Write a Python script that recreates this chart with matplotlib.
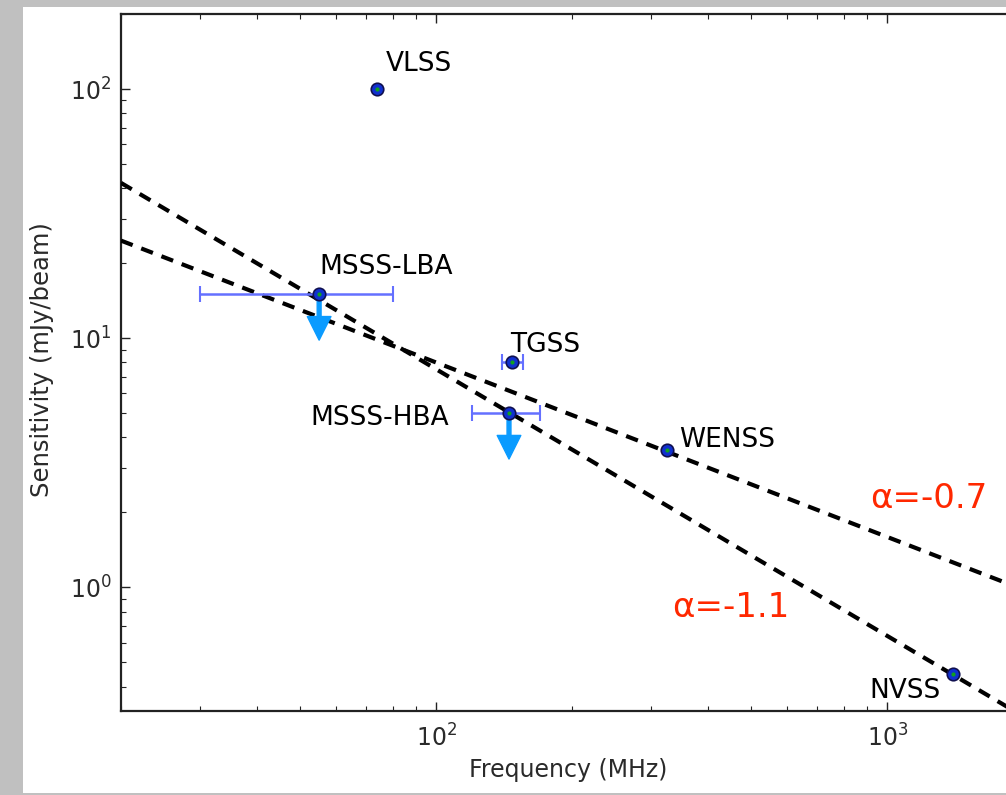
import numpy as np
import matplotlib
matplotlib.use("Agg")
import matplotlib.pyplot as plt
from matplotlib.patches import Rectangle
from matplotlib.transforms import offset_copy

# ---- data ----
surveys = ["VLSS", "MSSS-LBA", "TGSS", "MSSS-HBA", "WENSS", "NVSS"]
freq_mhz = [74, 55, 147, 145, 325, 1400]
sens_mjy = [100, 15, 8, 5, 3.55, 0.45]
freq_lo = [74, 30, 140, 120, 325, 1400]
freq_hi = [74, 80, 156, 170, 325, 1400]
upper_limit = [False, True, False, True, False, False]

# reference power-law lines S = S0 * (nu / nu0) ** slope
line_slope = [-0.7, -1.07]
line_ref_freq = [325, 20]
line_ref_sens = [3.5, 42]
line_labels = ["α=-0.7", "α=-1.1"]

xlim = (20, 3000)
ylim = (0.32, 200)

# ---- figure ----
W, H = 1006, 795
fig = plt.figure(figsize=(W / 100, H / 100), dpi=100, facecolor="#c0c0c0")
fig.patches.append(Rectangle((23 / W, 2.5 / H), 1 - 23 / W, (792.5 - 7) / H,
                             transform=fig.transFigure, facecolor="white",
                             edgecolor="none", zorder=-10))

ax_left, ax_right = 121, 1102.4
ax_top, ax_bottom = 14, 710.7
ax = fig.add_axes([ax_left / W, 1 - ax_bottom / H, (ax_right - ax_left) / W,
                   (ax_bottom - ax_top) / H])
ax.set_zorder(5)
ax.set_xscale("log")
ax.set_yscale("log")
ax.set_xlim(*xlim)
ax.set_ylim(*ylim)

for s in ax.spines.values():
    s.set_linewidth(1.6)
    s.set_color("#222222")

ax.tick_params(which="both", direction="in", top=True, right=True,
               colors="#222222", labelcolor="#2a2a2a", labelsize=17)
ax.tick_params(which="major", length=6.5, width=1)
ax.tick_params(which="minor", length=3.5, width=0.8)
ax.tick_params(axis="y", pad=7)
ax.tick_params(axis="x", pad=10)

# reference lines
nu = np.array(xlim, dtype=float)
for a, f0, s0 in zip(line_slope, line_ref_freq, line_ref_sens):
    ax.plot(nu, s0 * (nu / f0) ** a, color="black", lw=3,
            linestyle=(0, (3.0, 2.2)), zorder=3)

# error bars
fx = np.array(freq_mhz, dtype=float)
xerr = np.array([fx - np.array(freq_lo), np.array(freq_hi) - fx])
has_err = (xerr.sum(axis=0) > 0)
ax.errorbar(fx[has_err], np.array(sens_mjy)[has_err], xerr=xerr[:, has_err],
            fmt="none", ecolor="#6470ff", elinewidth=1.8, capsize=5.5,
            capthick=1.5, zorder=4)

# markers
ax.plot(freq_mhz, sens_mjy, "o", ms=9, mfc="#1030d0", mec="#101050",
        mew=1.2, zorder=5, linestyle="none")
ax.plot(freq_mhz, sens_mjy, "o", ms=3, mfc="#10a020", mec="none",
        zorder=6, linestyle="none")

# upper-limit arrows
for f, s, ul in zip(freq_mhz, sens_mjy, upper_limit):
    if ul:
        tip = offset_copy(ax.transData, fig=fig, x=0, y=-33, units="points")
        ax.annotate("", xy=(f, s), xycoords=tip, xytext=(f, s),
                    textcoords="data",
                    arrowprops=dict(facecolor="#0a9bff", edgecolor="#0a9bff",
                                    width=2.8, headwidth=17, headlength=17,
                                    shrink=0),
                    zorder=4)

# survey labels
label_offsets = {
    "VLSS": ((6.5, 13), "left"),
    "MSSS-LBA": ((0, 14.5), "left"),
    "TGSS": ((-1, 7.5), "left"),
    "MSSS-HBA": ((-43, -8.5), "right"),
    "WENSS": ((9, 2.4), "left"),
    "NVSS": ((-9, -17.5), "right"),
}
for name, f, s in zip(surveys, freq_mhz, sens_mjy):
    off, ha = label_offsets[name]
    ax.annotate(name, xy=(f, s), xytext=off, textcoords="offset points",
                ha=ha, va="baseline", fontsize=19, color="black", zorder=7)

# alpha labels
alpha_pos = [(916, 2.09), (333, 0.762)]
for lab, (px, py) in zip(line_labels, alpha_pos):
    ax.text(px, py, lab, color="#ff2800", fontsize=24.5, ha="left",
            va="baseline", zorder=7)

ax.set_xlabel("Frequency (MHz)", fontsize=17, color="#2a2a2a")
ax.set_ylabel("Sensitivity (mJy/beam)", fontsize=17.5, color="#2a2a2a")
ax.xaxis.set_label_coords((568 - ax_left) / (ax_right - ax_left),
                          -(770 - ax_bottom) / (ax_bottom - ax_top))
ax.yaxis.set_label_coords(-(ax_left - 42) / (ax_right - ax_left),
                          (ax_bottom - 360) / (ax_bottom - ax_top))
ax.xaxis.label.set_va("center")
ax.yaxis.label.set_va("center")

fig.savefig("out.png", dpi=100, facecolor=fig.get_facecolor())
